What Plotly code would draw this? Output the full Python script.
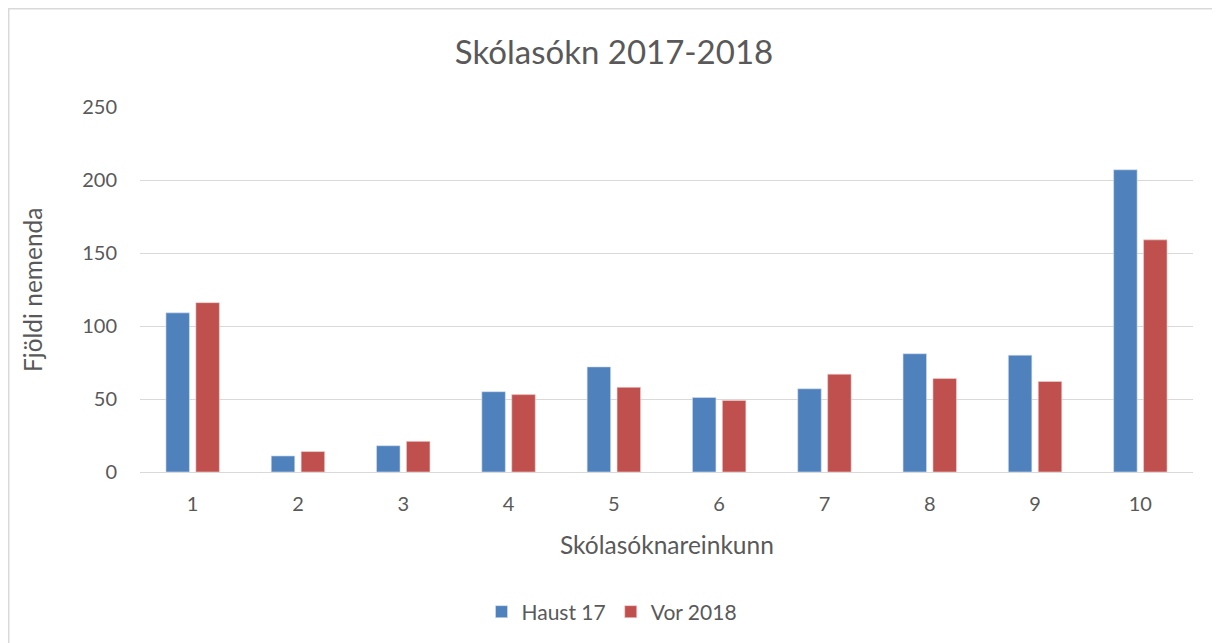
import plotly.graph_objects as go

categories = ["1", "2", "3", "4", "5", "6", "7", "8", "9", "10"]
haust_17 = [109, 11, 18, 55, 72, 51, 57, 81, 80, 207]
vor_2018 = [116, 14, 21, 53, 58, 49, 67, 64, 62, 159]

FONT = "Lato, 'Open Sans', sans-serif"
GREY = "#595959"

fig = go.Figure()
fig.add_trace(go.Bar(x=categories, y=haust_17, name="Haust 17",
                     marker=dict(color="#4f81bd", line=dict(color="#d6e0f0", width=0.6))))
fig.add_trace(go.Bar(x=categories, y=vor_2018, name="Vor 2018",
                     marker=dict(color="#c0504d", line=dict(color="#eed3d2", width=0.6))))

# page has 8px body margin -> figure coordinates = page - 8
W, H = 1212, 635
L, R, T, B = 132, 27, 99, 171
pw = W - L - R
ph = H - T - B

def px_x(x):  # figure px -> paper x
    return (x - L) / pw

def px_y(y):  # figure px (from top) -> paper y
    return (H - B - y) / ph

fig.update_layout(
    width=W, height=H,
    margin=dict(l=L, r=R, t=T, b=B, autoexpand=False),
    paper_bgcolor="white", plot_bgcolor="white",
    barmode="group", bargap=0.432, bargroupgap=0.214,
    font=dict(family=FONT, color=GREY, size=21),
    title=dict(text="Skólasókn 2017-2018", x=0.5, xanchor="center", xref="container",
               y=1 - 44 / H, yanchor="middle", yref="container",
               font=dict(size=33, color=GREY, family=FONT)),
    xaxis=dict(type="category", showgrid=False, showline=True,
               linecolor="#d9d9d9", linewidth=1.3, ticks="",
               ticklabelstandoff=14,
               tickfont=dict(size=20, color=GREY)),
    yaxis=dict(range=[0, 250], dtick=50, showgrid=True, gridcolor="#d9d9d9",
               gridwidth=1.3, zeroline=False, showline=False, ticks="",
               ticklabelstandoff=22,
               tickfont=dict(size=20, color=GREY)),
    legend=dict(orientation="h", x=px_x(604), xanchor="center",
                y=px_y(604), yanchor="middle",
                font=dict(size=21, color=GREY), traceorder="normal"),
    showlegend=True,
)

fig.add_annotation(text="Skólasóknareinkunn", xref="paper", yref="paper",
                   x=px_x(659), y=px_y(536), showarrow=False,
                   xanchor="center", yanchor="middle",
                   font=dict(size=24.5, color=GREY, family=FONT))
fig.add_annotation(text="Fjöldi nemenda", xref="paper", yref="paper",
                   x=px_x(24), y=px_y(282), showarrow=False, textangle=-90,
                   xanchor="center", yanchor="middle",
                   font=dict(size=24.5, color=GREY, family=FONT))

# outer chart border
fig.add_shape(type="rect", xref="paper", yref="paper",
              x0=px_x(0.7), x1=px_x(W + 20),
              y0=px_y(H + 20), y1=px_y(0.7),
              line=dict(color="#d9d9d9", width=1.5), layer="below")

fig.write_html("out.html")
